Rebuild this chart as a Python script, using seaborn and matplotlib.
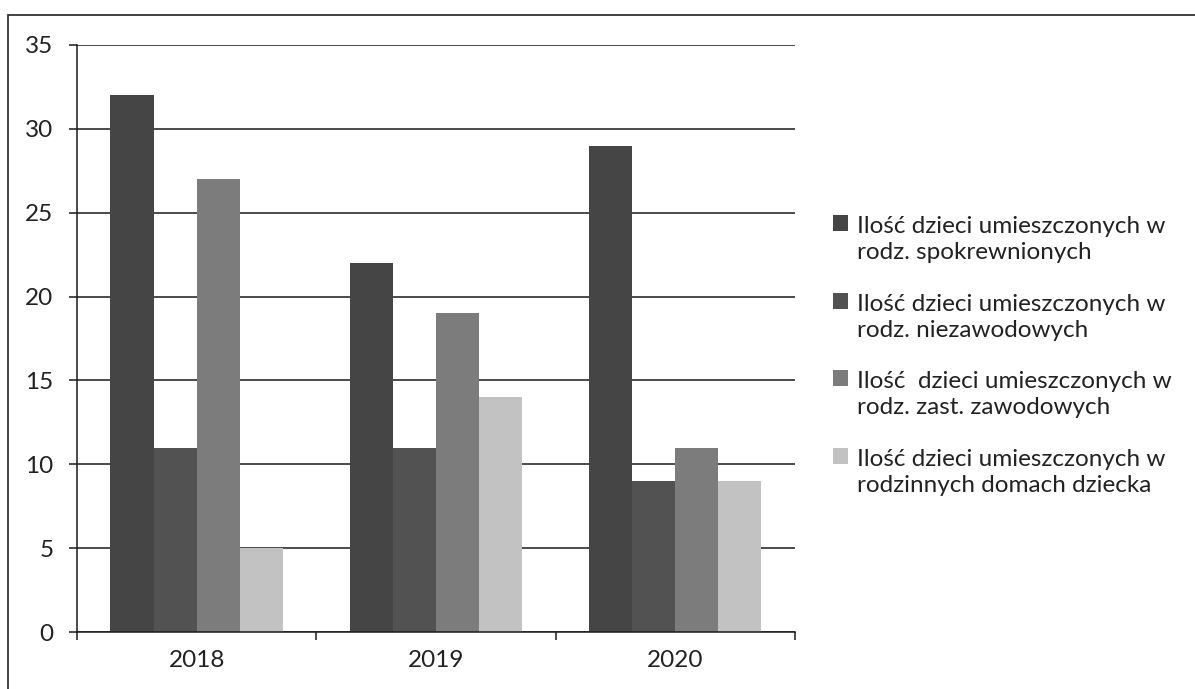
# Liczba dzieci umieszczonych w pieczy zastępczej (2018-2020)

import pandas as pd
import seaborn as sns
import matplotlib.pyplot as plt
from matplotlib.patches import Rectangle
from matplotlib.legend_handler import HandlerPatch

years = ["2018", "2019", "2020"]
series_labels = [
    "Ilość dzieci umieszczonych w\nrodz. spokrewnionych",
    "Ilość dzieci umieszczonych w\nrodz. niezawodowych",
    "Ilość  dzieci umieszczonych w\nrodz. zast. zawodowych",
    "Ilość dzieci umieszczonych w\nrodzinnych domach dziecka",
]
spokrewnione = [32, 22, 29]
niezawodowe = [11, 11, 9]
zawodowe = [27, 19, 11]
domy_dziecka = [5, 14, 9]

colors = ["#454545", "#525252", "#7c7c7c", "#c2c2c2"]

df = pd.DataFrame({
    "year": years * 4,
    "series": [s for s in series_labels for _ in years],
    "value": spokrewnione + niezawodowe + zawodowe + domy_dziecka,
})


# legend square sits next to the first line of each two-line label
class TopSquare(HandlerPatch):
    def create_artists(self, legend, orig_handle, xdescent, ydescent,
                       width, height, fontsize, trans):
        sq = Rectangle((-xdescent, -ydescent + 0.68 * fontsize), width, height,
                       facecolor=orig_handle.get_facecolor(), edgecolor="none",
                       transform=trans)
        return [sq]


sns.set_theme(style="white")
plt.rcParams['font.family'] = ['Lato', 'DejaVu Sans']

fig = plt.figure(figsize=(11.95, 6.89), dpi=100)
ax = fig.add_axes([0.0644, 0.0827, 0.6008, 0.852])

sns.barplot(data=df, x="year", y="value", hue="series", palette=colors,
            width=0.72, gap=0, saturation=1, edgecolor="none", ax=ax)

ax.set_xlim(-0.5, 2.5)
ax.set_ylim(0, 35)
ax.set_yticks(range(0, 36, 5))
ax.yaxis.grid(True, color="#1a1a1a", linewidth=1.1)
ax.set_axisbelow(True)
ax.set_xlabel("")
ax.set_ylabel("")

for side in ["top", "right"]:
    ax.spines[side].set_visible(False)
for side in ["left", "bottom"]:
    ax.spines[side].set_color("#1a1a1a")
    ax.spines[side].set_linewidth(1.1)

ax.tick_params(axis="y", direction="out", length=6, width=1.1, color="#1a1a1a",
               pad=11, labelsize=17.5, labelcolor="#222222", left=True)
ax.set_xticks([-0.5, 0.5, 1.5, 2.5], minor=True)
ax.tick_params(axis="x", which="minor", direction="out", length=6, width=1.1,
               color="#1a1a1a", bottom=True)
ax.tick_params(axis="x", which="major", length=0, pad=13, labelsize=17.5,
               labelcolor="#222222")

handles, labels = ax.get_legend_handles_labels()
leg = ax.legend(handles, labels, loc="center left", bbox_to_anchor=(1.022, 0.47),
                frameon=False, fontsize=17.5, handlelength=0.62, handleheight=0.62,
                handletextpad=0.4, labelspacing=1.25, labelcolor="#222222",
                handler_map={h: TopSquare() for h in handles})
for t in leg.get_texts():
    t.set_linespacing(1.3)

# scanned page frame
fig.patches.append(Rectangle((8 / 1195, -0.05), 1.1, (689 - 15) / 689 + 0.05,
                             transform=fig.transFigure, fill=False,
                             edgecolor="#222222", linewidth=1.2))

fig.savefig("out.png", dpi=100)
